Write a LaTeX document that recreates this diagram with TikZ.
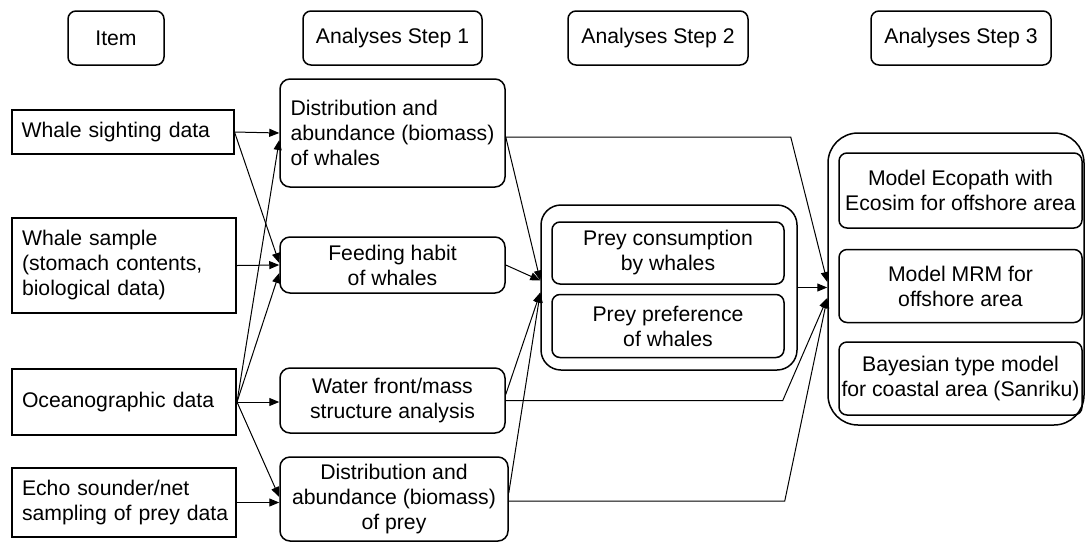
\documentclass[tikz,border=0pt]{standalone}
\usepackage{fontspec}
\setmainfont{Liberation Sans}
\usetikzlibrary{arrows.meta,positioning}
\tikzstyle{every node} = [font=\fontsize{10.6}{12.5}\selectfont]
\tikzstyle{headbox} = [draw, rounded corners=4pt, line width=0.75pt,
    minimum height=27pt, inner sep=0pt]
\tikzstyle{itembox} = [draw, rectangle, line width=1pt, inner xsep=5pt,
    inner ysep=0pt, text width=102pt, align=left]
\tikzstyle{stepbox} = [draw, rounded corners=5pt, line width=0.75pt,
    inner sep=0pt, minimum width=112.5pt, align=center]
\tikzstyle{groupbox} = [draw, line width=0.75pt, minimum width=128pt]
\tikzstyle{innerbox} = [draw, rounded corners=4pt, line width=0.75pt,
    inner sep=0pt, align=center]
\tikzstyle{flow} = [-{Triangle[length=5pt,width=4pt]}, line width=0.5pt]
\begin{document}
\begin{tikzpicture}[x=0.5pt,y=-0.5pt]
\useasboundingbox (0,0) rectangle (1086,542);

% column headers
\node[headbox, minimum width=48pt] (hitem) at (116,38) {Item};
\node[headbox, minimum width=89.5pt] (hstep1) at (392.5,38) {Analyses Step 1};
\node[headbox, minimum width=90pt] (hstep2) at (658,38) {Analyses Step 2};
\node[headbox, minimum width=90pt] (hstep3) at (961,38) {Analyses Step 3};

% items
\node[itembox, text width=101pt, minimum height=22pt] (sight) at (122.5,132) {Whale sighting data};
\node[itembox, minimum height=47.5pt] (sample) at (124,265.5) {Whale sample\\(stomach contents,\\biological data)};
\node[itembox, minimum height=33pt] (ocean) at (124,402) {Oceanographic data};
\node[itembox, minimum height=34.5pt] (echo) at (124,502.5) {Echo sounder/net\\\mbox{sampling of prey data}};

% step 1
\node[stepbox, align=left, minimum height=54pt] (distw) at (392.5,133) {Distribution and\\abundance (biomass)\\of whales};
\node[stepbox, minimum height=28pt] (feed) at (392.5,265) {Feeding habit\\of whales};
\node[stepbox, minimum height=32.5pt] (water) at (392.5,400.5) {Water front/mass\\structure analysis};
\node[stepbox, minimum width=114pt, minimum height=42pt] (prey) at (394,499) {Distribution and\\abundance (biomass)\\of prey};

% step 2
\node[groupbox, rounded corners=10pt, minimum height=82.5pt] (s2) at (669,287.5) {};
\node[innerbox, minimum width=116pt, minimum height=31pt] (cons) at (668,253) {Prey consumption\\by whales};
\node[innerbox, minimum width=116pt, minimum height=31.5pt, below=4.5pt of cons] (pref) {Prey preference\\of whales};

% step 3
\node[groupbox, rounded corners=15pt, minimum height=146pt] (s3) at (956,279) {};
\node[innerbox, minimum width=121.5pt, minimum height=37.5pt] (eco) at (960.5,190.5) {Model Ecopath with\\Ecosim for offshore area};
\node[innerbox, minimum width=121.5pt, minimum height=36.5pt, below=10pt of eco] (mrm) {Model MRM for\\offshore area};
\node[innerbox, minimum width=121.5pt, minimum height=36.5pt, below=9pt of mrm] (bayes) {Bayesian type model\\for coastal area (Sanriku)};

% items -> step 1
\draw[flow] (sight.east) -- (distw.west);
\draw[flow] (sight.east) -- ([yshift=1pt]feed.west);
\draw[flow] (sample.east) -- (feed.west);
\draw[flow] (ocean.east) -- ([yshift=-3.5pt]distw.west);
\draw[flow] (ocean.east) -- ([yshift=-4pt]feed.west);
\draw[flow] (ocean.east) -- (ocean.east -| water.west);
\draw[flow] (ocean.east) -- ([yshift=1pt]prey.west);
\draw[flow] (echo.east) -- (echo.east -| prey.west);

% step 1 -> step 2
\coordinate (in2a) at ([yshift=3.5pt]s2.west);
\coordinate (in2b) at ([yshift=-2.5pt]s2.west);
\draw[flow] ([yshift=-2pt]distw.east) -- (in2a);
\draw[flow] (feed.east) -- (in2a);
\draw[flow] ([yshift=3pt]water.east) -- (in2b);
\draw[flow] ([yshift=3pt]prey.east) -- (in2b);

% to step 3
\coordinate (in3a) at ([yshift=-1.5pt]s3.west);
\coordinate (in3b) at ([yshift=-9.5pt]s3.west);
\draw[flow] (s2.east) -- (s2.east -| s3.west);
\draw[flow] ([yshift=-2pt]distw.east) -- ++(285,0) -- (in3a);
\draw[flow] (water.east) -- ++(277,0) -- (in3b);
\draw[flow] ([yshift=-1pt]prey.east) -- ++(276,0) -- (in3b);

\end{tikzpicture}
\end{document}
